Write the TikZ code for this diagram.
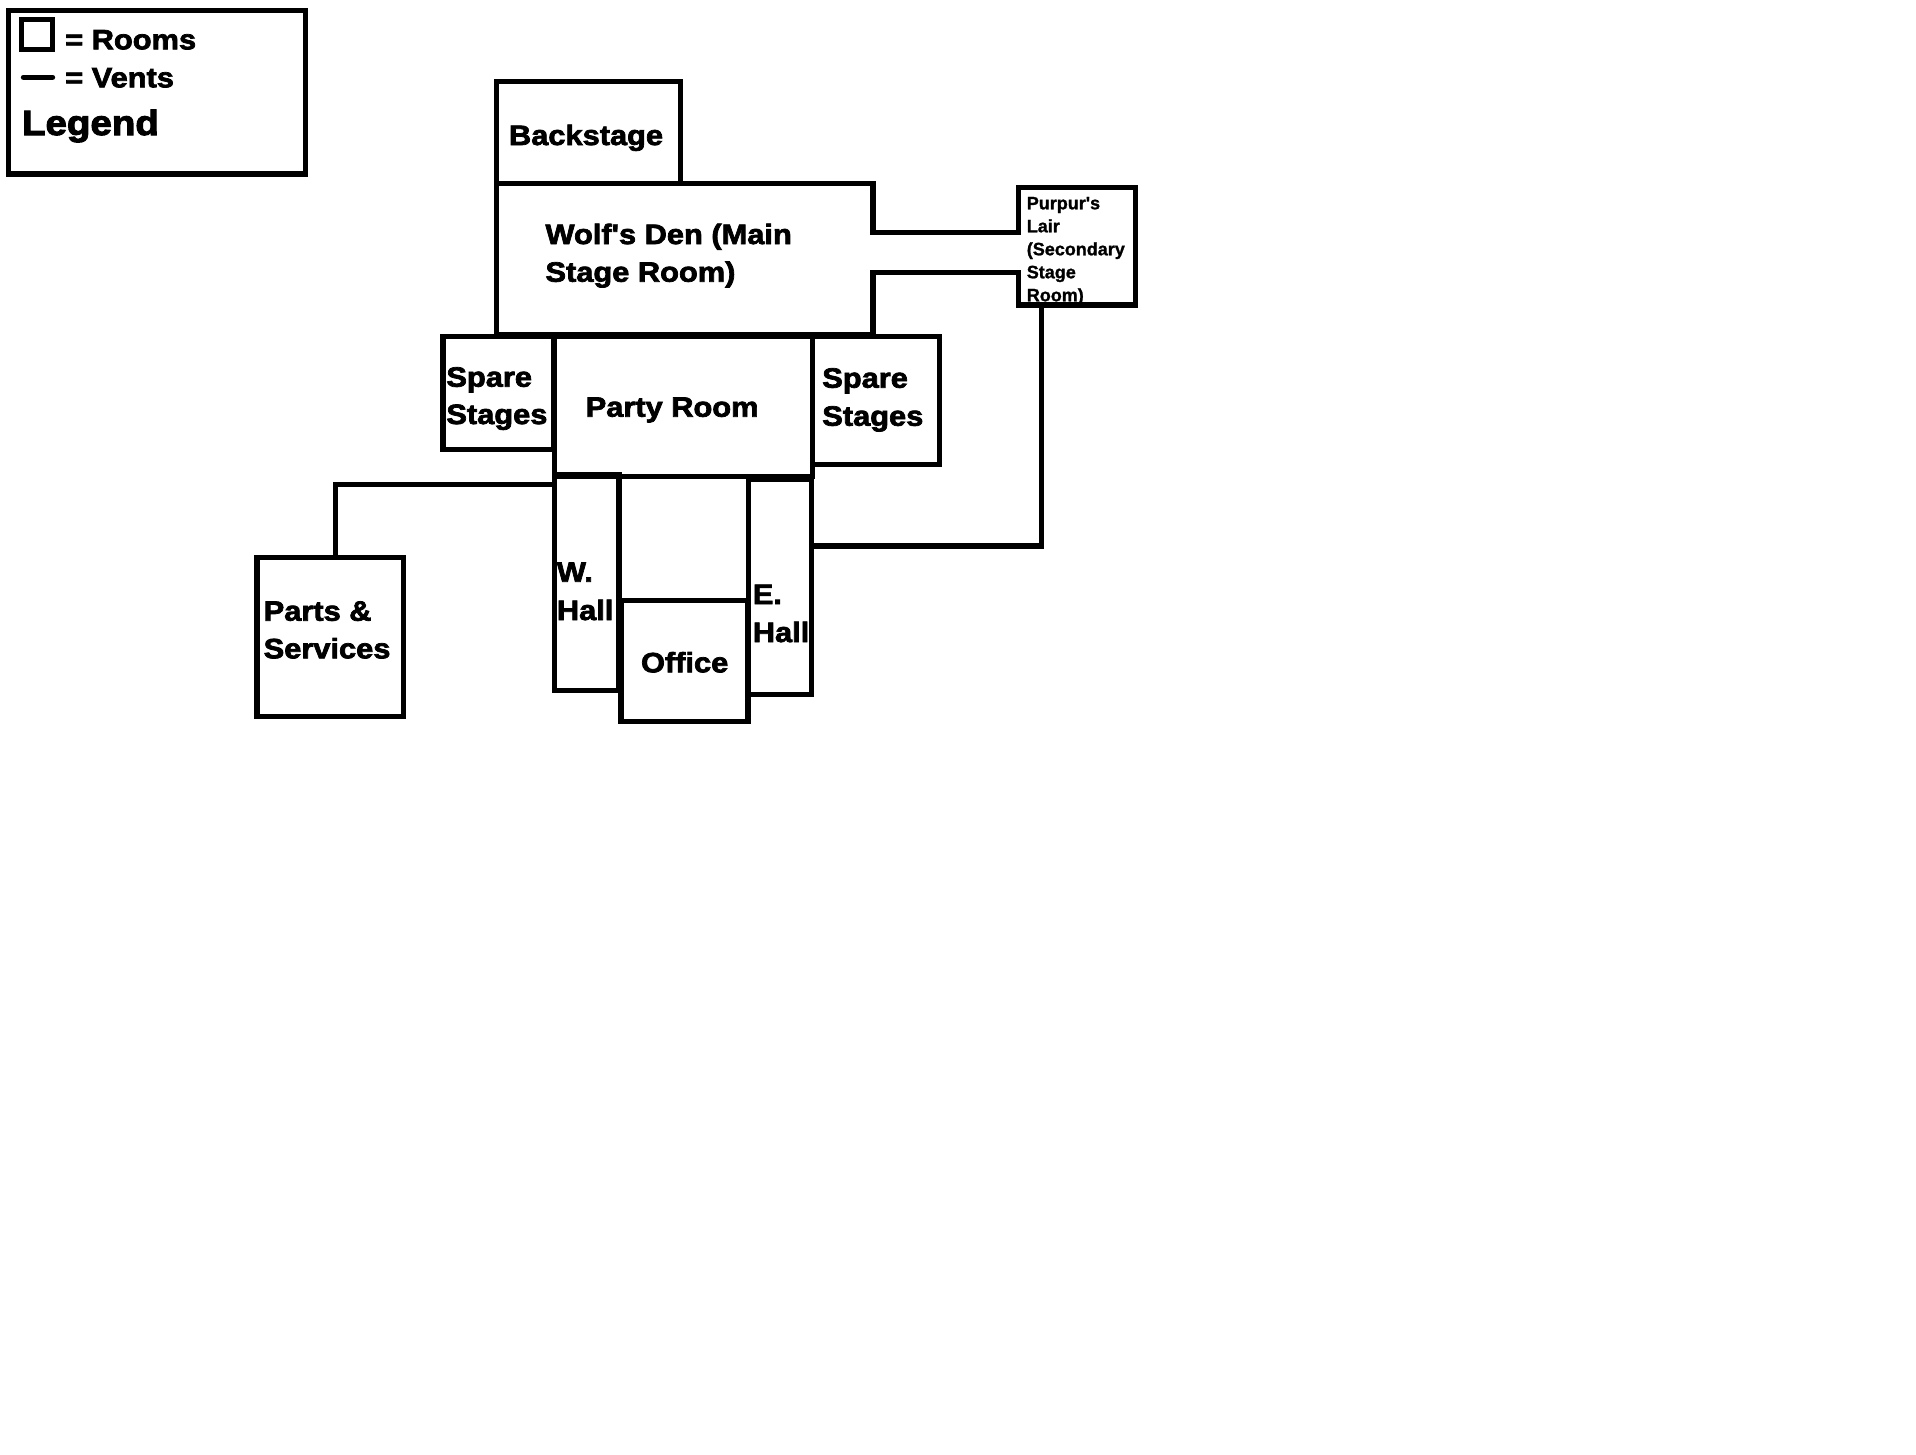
\documentclass[tikz,border=0pt]{standalone}
\usepackage{fontspec}
\usetikzlibrary{fit}
\newfontfamily\paintfont[BoldFeatures={FakeStretch=1.10,FakeBold=2.6}]{Liberation Sans}
\newfontfamily\legendfont[BoldFeatures={FakeStretch=1.10,FakeBold=3}]{Liberation Sans}
\newfontfamily\smallpaintfont[BoldFeatures={FakeStretch=1.0,FakeBold=1.2}]{Liberation Sans}
\tikzset{
  room/.style={draw=black,line width=5.4pt,inner sep=0pt,outer sep=0pt,fit={#1}},
  wall/.style={draw=black,line width=5.4pt,line join=miter,line cap=butt},
  label/.style={anchor=base west,inner sep=0pt,outer sep=0pt,text=black,font=\paintfont\bfseries\fontsize{28}{28}\selectfont},
  smalllabel/.style={label,font=\smallpaintfont\bfseries\fontsize{18}{18}\selectfont},
  biglabel/.style={label,font=\legendfont\bfseries\fontsize{35}{35}\selectfont},
}
\begin{document}
\begin{tikzpicture}[x=1pt,y=-1pt]
\useasboundingbox (0,0) rectangle (1916,1454);
\fill[white] (0,0) rectangle (1916,1454);
% legend
\node[room={(8.3,10.5)(305.5,174)}] (legend) {};
\node[room={(21.5,19.5)(52.5,49.5)}] (legendroom) {};
\coordinate (ventA) at (23.5,77.3);
\coordinate (ventB) at (52.5,77.3);
\draw[wall,line cap=round] (ventA) -- (ventB);
\node[label] (lrooms) at (65.2,49.3) {= Rooms};
\node[label] (lvents) at (65.2,87.3) {= Vents};
\node[biglabel] (llegend) at (22,135) {Legend};
% rooms
\node[room={(496.5,81.7)(680.4,183.3)}] (backstage) {};
\node[room={(443,336.5)(554,449.3)}] (spareL) {};
\node[room={(812.5,336.5)(939.7,464.3)}] (spareR) {};
\node[room={(554.4,336.5)(812.5,476.7)}] (party) {};
\node[room={(554.4,475)(619,690.7)}] (whall) {};
\node[room={(748.2,479)(811.7,694.3)}] (ehall) {};
\node[room={(620.8,600.7)(747.8,721.7)}] (office) {};
\node[room={(256.8,557.3)(403.4,716.3)}] (parts) {};
% Wolf's Den with its open side
\coordinate (dA) at (873,232.3);
\coordinate (dB) at (1018.5,232.3);
\coordinate (dC) at (1018.5,272.3);
\coordinate (dD) at (873,272.3);
\coordinate (dNW) at (496.5,183.3);
\coordinate (dNE) at (873,183.3);
\coordinate (dSE) at (873,335);
\coordinate (dSW) at (496.5,335);
\draw[wall] (dB) -- (dA) -- (dNE) -- (dNW) -- (dSW) -- (dSE) -- (dD) -- (dC);
% Purpur's Lair with its open side
\coordinate (pNW) at (1018.5,187.5);
\coordinate (pNE) at (1135.5,187.5);
\coordinate (pSE) at (1135.5,305);
\coordinate (pSW) at (1018.5,305);
\draw[wall,line cap=rect] (dB) -- (pNW) -- (pNE) -- (pSE) -- (pSW) -- (dC);
% vents
\coordinate (vw) at (335.7,484.3);
\coordinate (ve) at (1041.5,546);
\draw[wall] (whall.west |- vw) -- (vw) -- (vw |- parts.north);
\draw[wall] (ehall.east |- ve) -- (ve) -- (ve |- pSE);
% labels
\node[label] (tback) at (509,145) {Backstage};
\node[label] (twolf) at (545.5,244) {Wolf's Den (Main};
\node[label] (twolfb) at (545.5,281.7) {Stage Room)};
\node[label] (tspl) at (446.4,386.7) {Spare};
\node[label] (tspb) at (446.4,424) {Stages};
\node[label] (tparty) at (585.7,416.7) {Party Room};
\node[label] (tspr) at (822.3,387.7) {Spare};
\node[label] (tsprb) at (822.3,425.7) {Stages};
\node[label] (tparts) at (263.7,620.7) {Parts \&};
\node[label] (tserv) at (263.7,658.3) {Services};
\node[label] (tw) at (556.9,581.7) {W.};
\node[label] (twh) at (556.9,620) {Hall};
\node[label] (te) at (752.8,604) {E.};
\node[label] (teh) at (752.8,642) {Hall};
\node[label] (toff) at (641,672.3) {Office};
\node[smalllabel] (tp1) at (1026.8,209.3) {Purpur's};
\node[smalllabel] (tp2) at (1026.8,232.3) {Lair};
\node[smalllabel] (tp3) at (1026.8,255.3) {(Secondary};
\node[smalllabel] (tp4) at (1026.8,278.3) {Stage};
\node[smalllabel] (tp5) at (1026.8,301.3) {Room)};
\end{tikzpicture}
\end{document}
